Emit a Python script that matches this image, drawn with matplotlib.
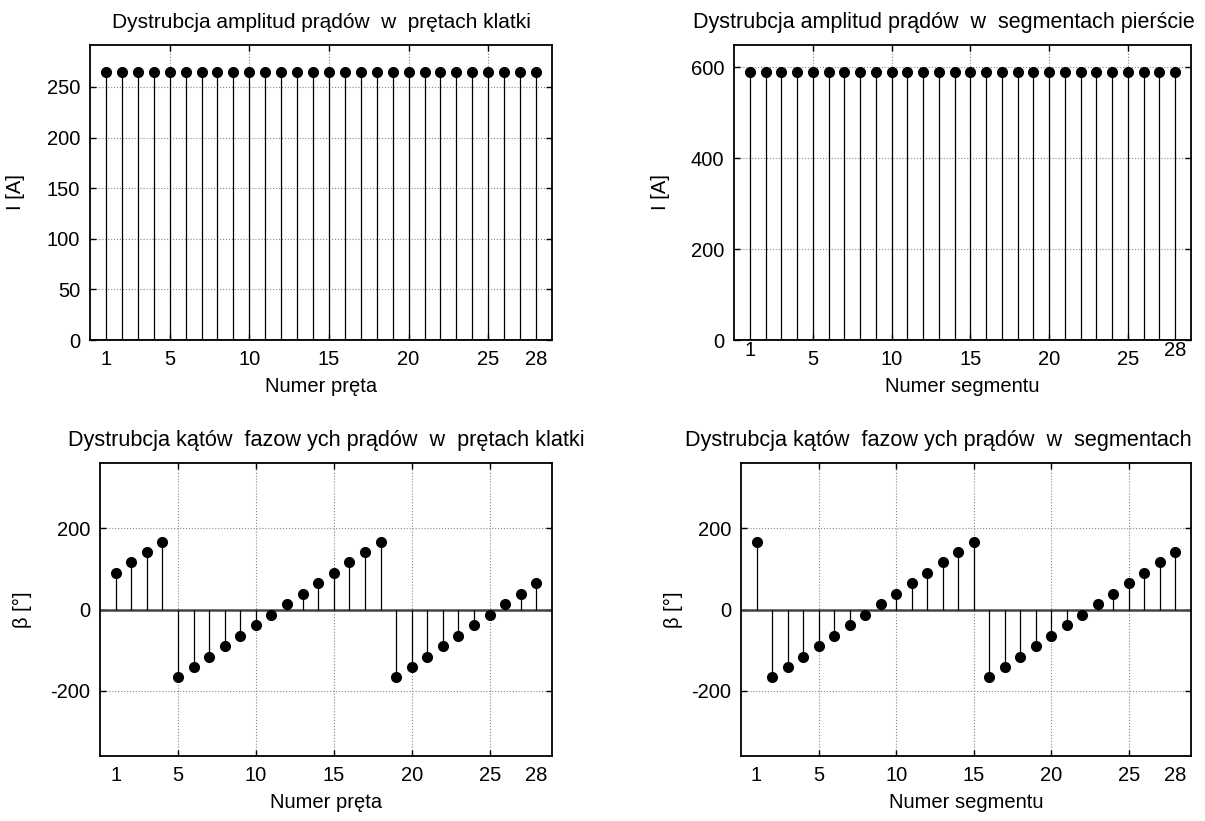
import matplotlib
matplotlib.use("Agg")
import matplotlib.pyplot as plt
from matplotlib.transforms import Bbox, TransformedBbox

plt.rcParams['font.family'] = ['Liberation Sans', 'DejaVu Sans']
plt.rcParams['axes.unicode_minus'] = False

### Data ###
bar_no = list(range(1, 29))
seg_no = list(range(1, 29))

# current amplitudes [A]
bar_amp = [265, 265, 265, 265, 265, 265, 265, 265, 265, 265, 265, 265, 265, 265,
           265, 265, 265, 265, 265, 265, 265, 265, 265, 265, 265, 265, 265, 265]
seg_amp = [590, 590, 590, 590, 590, 590, 590, 590, 590, 590, 590, 590, 590, 590,
           590, 590, 590, 590, 590, 590, 590, 590, 590, 590, 590, 590, 590, 590]

# phase angles [deg]
bar_phase = [90, 116, 141, 167, -167, -141, -116, -90, -64, -39, -13, 13, 39, 64,
             90, 116, 141, 167, -167, -141, -116, -90, -64, -39, -13, 13, 39, 64]
seg_phase = [167, -167, -141, -116, -90, -64, -39, -13, 13, 39, 64, 90, 116, 141,
             167, -167, -141, -116, -90, -64, -39, -13, 13, 39, 64, 90, 116, 141]

grid_ticks = [5, 10, 15, 20, 25]
end_ticks = [1, 28]

titles = ["Dystrubcja amplitud prądów  w  prętach klatki",
          "Dystrubcja amplitud prądów  w  segmentach pierścienia",
          "Dystrubcja kątów  fazow ych prądów  w  prętach klatki",
          "Dystrubcja kątów  fazow ych prądów  w  segmentach"]
xlabels = ["Numer pręta", "Numer segmentu", "Numer pręta", "Numer segmentu"]
ylabels = ["I [A]", "I [A]", "β [°]", "β [°]"]

FS = 14.5
W, H = 1205, 821


def px_axes(fig, x0, y0, x1, y1):
    # pixel box (top-left origin) -> figure fraction
    return fig.add_axes([x0 / W, 1 - y1 / H, (x1 - x0) / W, (y1 - y0) / H])


def stem_panel(ax, x, y, ylim, yticks, xlabel, ylabel, end_pad=7, ylpad=6):
    ax.axhline(0, color='#444444', linewidth=1.8, zorder=2)
    ml, sl, bl = ax.stem(x, y, linefmt='k-', markerfmt='ko', basefmt=' ')
    sl.set_linewidth(0.9)
    ml.set_markersize(7)
    bl.set_visible(False)
    ax.set_xlim(0, 29)
    ax.set_ylim(*ylim)
    ax.set_yticks(yticks)
    ax.set_xticks(grid_ticks)
    ax.set_xticks(end_ticks, minor=True)
    ax.set_xticklabels([str(t) for t in grid_ticks])
    ax.set_xticklabels([str(t) for t in end_ticks], minor=True)
    ax.grid(True, which='major', linestyle=':', color='#888888', linewidth=0.8)
    ax.set_axisbelow(True)
    ax.tick_params(which='major', direction='in', length=4, width=1,
                   top=True, right=True, labelsize=FS, pad=7)
    ax.tick_params(which='minor', direction='in', length=0, labelsize=FS, pad=end_pad)
    for s in ax.spines.values():
        s.set_linewidth(1.3)
    ax.set_xlabel(xlabel, fontsize=FS, labelpad=6)
    ax.set_ylabel(ylabel, fontsize=FS, labelpad=ylpad)


fig = plt.figure(figsize=(W / 100, H / 100), dpi=100)

ax1 = px_axes(fig, 90, 45, 552, 340)
stem_panel(ax1, bar_no, bar_amp, (0, 291.5), [0, 50, 100, 150, 200, 250],
           xlabels[0], ylabels[0], ylpad=16)
ax1.set_title(titles[0], fontsize=15, pad=12)

ax2 = px_axes(fig, 734, 45, 1191, 340)
stem_panel(ax2, seg_no, seg_amp, (0, 649), [0, 200, 400, 600],
           xlabels[1], ylabels[1], end_pad=1, ylpad=15)
t2 = ax2.set_title(titles[1], fontsize=15.5, pad=12, loc='left', x=(693 - 734) / 457)
# the exported figure cuts this title at its right border
t2.set_clip_box(TransformedBbox(Bbox.from_extents(0, 0, 1194 / W, 1), fig.transFigure))
t2.set_clip_on(True)

ax3 = px_axes(fig, 100, 463, 552, 756)
stem_panel(ax3, bar_no, bar_phase, (-360, 360), [-200, 0, 200],
           xlabels[2], ylabels[2], ylpad=13)
ax3.set_title(titles[2], fontsize=15.6, pad=12)

ax4 = px_axes(fig, 741, 463, 1191, 756)
stem_panel(ax4, seg_no, seg_phase, (-360, 360), [-200, 0, 200],
           xlabels[3], ylabels[3], ylpad=6)
ax4.set_title(titles[3], fontsize=15.6, pad=12, loc='right', x=(1192 - 741) / 450)

fig.savefig("out.png", dpi=100)
